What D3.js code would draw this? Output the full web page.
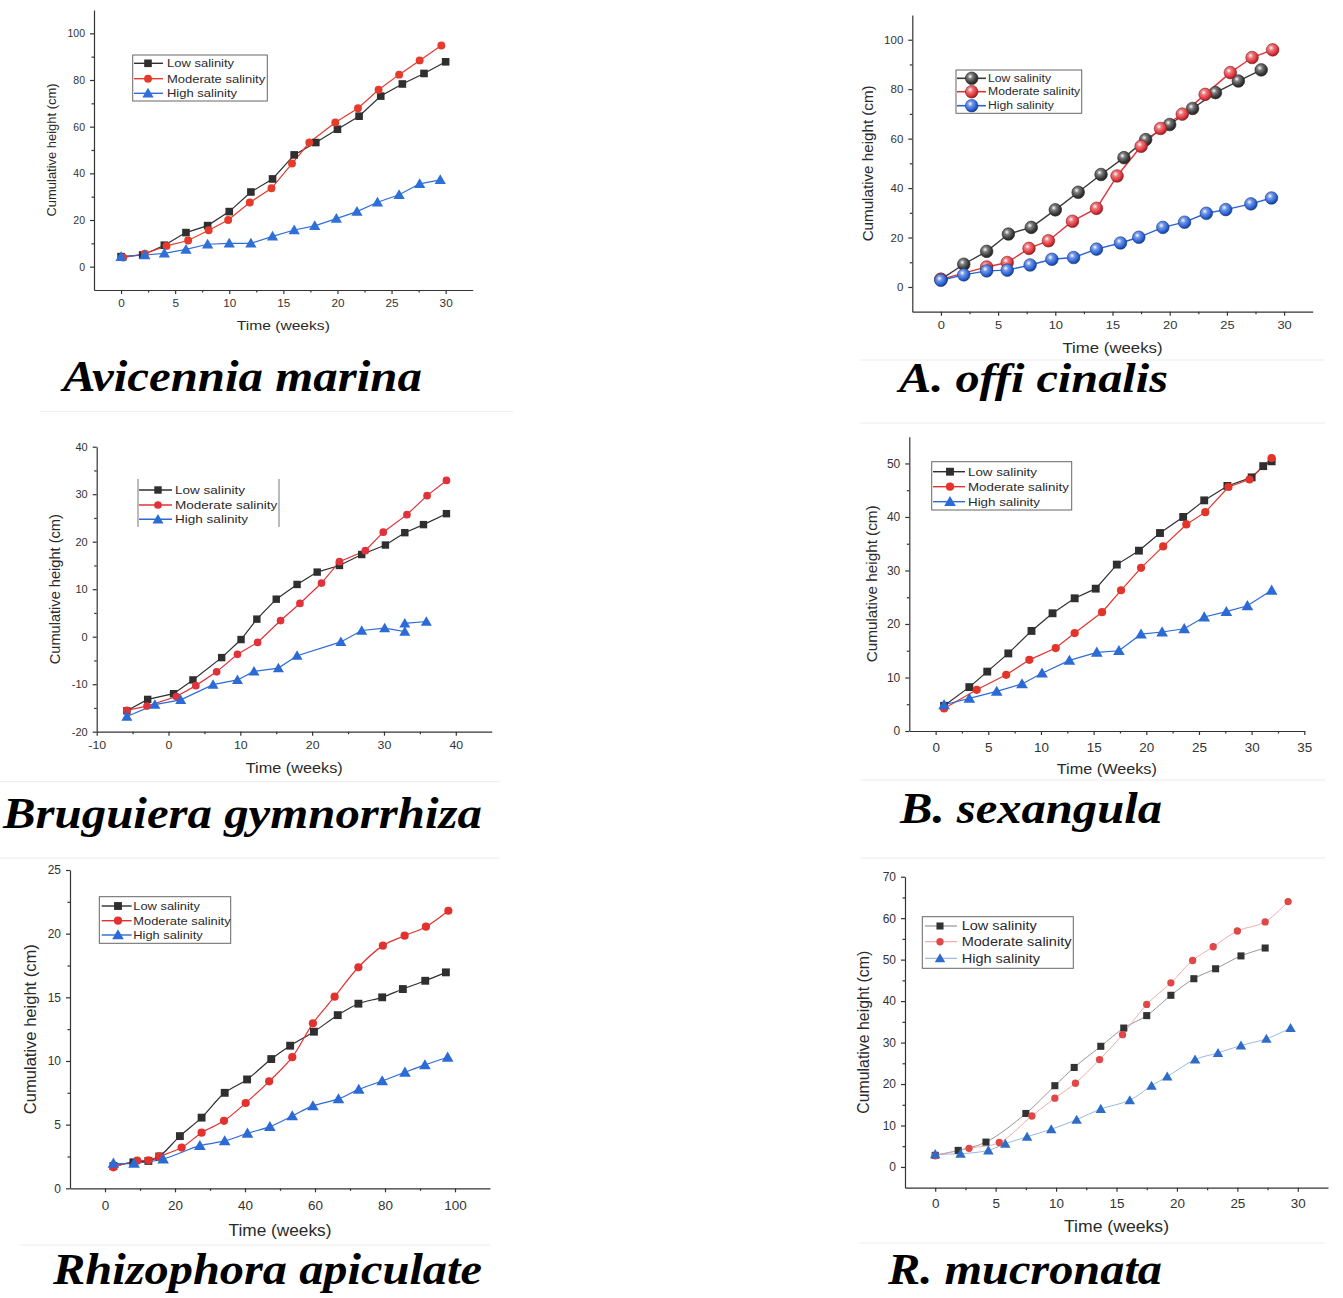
<!DOCTYPE html>
<html>
<head>
<meta charset="utf-8">
<script src="https://cdn.jsdelivr.net/npm/d3@7"></script>
<style>
  body { margin: 0; background: #fff; }
  svg { display: block; }
  text { font-family: "Liberation Sans", Arial, sans-serif; fill: #2a2a2a; }
  text.species { font-family: "Liberation Serif", "Times New Roman", serif; font-weight: bold; font-style: italic; fill: #000; }
</style>
</head>
<body>
<svg id="fig" width="1343" height="1298"></svg>
<script>
// ---------- series names ----------
const seriesNames = ["Low salinity", "Moderate salinity", "High salinity"];

// ---------- Avicennia marina ----------
const amLowX  = [0, 2, 4, 6, 8, 10, 12, 14, 16, 18, 20, 22, 24, 26, 28, 30];
const amLowY  = [4.3, 5, 9.2, 14.6, 17.6, 23.6, 32, 37.6, 47.9, 53.2, 58.9, 64.5, 73.1, 78.3, 82.8, 87.8];
const amModX  = [0.2, 2.2, 4.2, 6.2, 8.1, 9.9, 11.9, 13.9, 15.8, 17.4, 19.8, 21.9, 23.8, 25.7, 27.6, 29.6];
const amModY  = [3.9, 5.6, 8.9, 11.2, 15.6, 20, 27.5, 33.6, 44.2, 53.2, 61.8, 67.9, 75.8, 82.3, 88.4, 94.8];
const amHighX = [0, 2.2, 4, 6, 8, 10, 12, 14, 16, 17.9, 19.9, 21.8, 23.7, 25.7, 27.6, 29.5];
const amHighY = [4.3, 5, 5.7, 7.4, 9.6, 10, 10, 13, 15.7, 17.5, 20.6, 23.6, 27.6, 30.8, 35.5, 37.2];
const amXTicks = [0, 5, 10, 15, 20, 25, 30];
const amYTicks = [0, 20, 40, 60, 80, 100];

// ---------- A. officinalis ----------
const aoLowX  = [0, 2, 4, 5.9, 7.9, 10, 12, 14, 16, 17.9, 20, 22, 24, 26, 28];
const aoLowY  = [3.1, 9.2, 14.4, 21.4, 24.1, 31.2, 38.3, 45.5, 52.3, 59.6, 65.7, 72.2, 78.6, 83.3, 87.8];
const aoModX  = [0, 4, 5.8, 7.7, 9.4, 11.5, 13.6, 15.4, 17.5, 19.2, 21.1, 23.1, 25.3, 27.2, 29];
const aoModY  = [3.1, 8.1, 9.9, 15.6, 18.7, 26.6, 31.8, 44.9, 56.9, 64.1, 69.9, 77.9, 86.7, 92.8, 95.9];
const aoHighX = [0, 2, 4, 5.8, 7.8, 9.7, 11.6, 13.6, 15.7, 17.3, 19.4, 21.3, 23.2, 24.9, 27.1, 28.9];
const aoHighY = [2.7, 4.9, 6.5, 6.8, 8.9, 11.2, 11.9, 15.3, 17.8, 20.1, 24.1, 26.2, 29.8, 31.3, 33.6, 36];
const aoXTicks = [0, 5, 10, 15, 20, 25, 30];
const aoYTicks = [0, 20, 40, 60, 80, 100];

// ---------- Bruguiera gymnorrhiza ----------
const bgLowX  = [-5.8, -2.9, 0.7, 3.4, 7.4, 10.1, 12.3, 15, 17.9, 20.7, 23.8, 26.9, 30.2, 32.9, 35.5, 38.7];
const bgLowY  = [-15.6, -13.2, -12, -9.1, -4.4, -0.6, 3.7, 7.9, 11, 13.6, 15, 17.3, 19.3, 21.9, 23.6, 25.9];
const bgModX  = [-5.8, -3, 1.1, 3.8, 6.7, 9.6, 12.4, 15.6, 18.3, 21.3, 23.8, 27.4, 29.9, 33.2, 36, 38.7];
const bgModY  = [-15.5, -14.6, -12.6, -10.3, -7.4, -3.7, -1.2, 3.4, 7, 11.3, 15.8, 18.1, 22, 25.7, 29.7, 32.9];
const bgHighX = [-5.8, -1.9, 1.7, 6.2, 9.6, 11.9, 15.3, 17.9, 24, 26.9, 30.1, 32.9, 32.9, 35.9];
const bgHighY = [-16.8, -14.3, -13.3, -10.1, -9.1, -7.3, -6.6, -4, -1.1, 1.3, 1.8, 1.1, 2.8, 3.2];
const bgXTicks = [-10, 0, 10, 20, 30, 40];
const bgYTicks = [-20, -10, 0, 10, 20, 30, 40];

// ---------- B. sexangula ----------
const bsLowX  = [0.8, 3.2, 4.9, 6.9, 9.1, 11.1, 13.2, 15.2, 17.2, 19.3, 21.3, 23.5, 25.5, 27.7, 30, 31.1, 31.9];
const bsLowY  = [4.7, 8.2, 11.1, 14.5, 18.7, 22, 24.8, 26.6, 31.1, 33.7, 37, 40, 43.1, 45.8, 47.4, 49.5, 50.4];
const bsModX  = [0.8, 3.9, 6.7, 8.9, 11.4, 13.2, 15.8, 17.6, 19.5, 21.6, 23.8, 25.6, 27.8, 29.8, 31.9];
const bsModY  = [4.2, 7.7, 10.5, 13.3, 15.5, 18.3, 22.2, 26.3, 30.5, 34.5, 38.6, 40.9, 45.6, 47, 51];
const bsHighX = [0.8, 3.2, 5.8, 8.2, 10.1, 12.7, 15.3, 17.4, 19.5, 21.5, 23.6, 25.5, 27.6, 29.6, 31.9];
const bsHighY = [4.9, 6.1, 7.4, 8.8, 10.8, 13.2, 14.7, 15, 18.1, 18.5, 19.1, 21.3, 22.3, 23.4, 26.3];
const bsXTicks = [0, 5, 10, 15, 20, 25, 30, 35];
const bsYTicks = [0, 10, 20, 30, 40, 50];

// ---------- Rhizophora apiculata ----------
const raLowX  = [2.4, 8.1, 12.4, 15.5, 21.4, 27.6, 34.2, 40.6, 47.5, 52.9, 59.7, 66.5, 72.4, 79.2, 85.1, 91.5, 97.4];
const raLowY  = [1.75, 2.04, 2.15, 2.5, 4.1, 5.55, 7.5, 8.55, 10.15, 11.2, 12.3, 13.6, 14.5, 15, 15.65, 16.3, 16.96];
const raModX  = [2.4, 9.2, 12.4, 15.5, 21.9, 27.6, 34, 40.2, 46.9, 53.5, 59.4, 65.6, 72.4, 79.4, 85.6, 91.7, 98.1];
const raModY  = [1.65, 2.17, 2.2, 2.5, 3.2, 4.37, 5.3, 6.7, 8.4, 10.3, 12.96, 15.05, 17.36, 19.06, 19.84, 20.55, 21.8];
const raHighX = [2.4, 8.3, 16.6, 27.1, 34.2, 40.7, 47.1, 53.5, 59.4, 66.7, 72.5, 79.2, 85.7, 91.4, 97.9];
const raHighY = [1.96, 1.96, 2.3, 3.35, 3.72, 4.32, 4.84, 5.68, 6.47, 7.02, 7.77, 8.43, 9.11, 9.69, 10.29];
const raXTicks = [0, 20, 40, 60, 80, 100];
const raYTicks = [0, 5, 10, 15, 20, 25];

// ---------- R. mucronata ----------
const rmLowX  = [0, 1.9, 4.2, 7.5, 9.9, 11.5, 13.7, 15.6, 17.5, 19.5, 21.4, 23.2, 25.3, 27.3];
const rmLowY  = [2.8, 4, 6, 12.9, 19.6, 24, 29.1, 33.5, 36.5, 41.4, 45.4, 47.8, 50.9, 52.8];
const rmModX  = [0, 2.8, 5.3, 8, 9.9, 11.6, 13.6, 15.5, 17.5, 19.5, 21.3, 23, 25, 27.3, 29.2];
const rmModY  = [2.7, 4.5, 5.9, 12.3, 16.6, 20.2, 25.9, 31.9, 39.2, 44.4, 49.8, 53.1, 56.9, 59.1, 64];
const rmHighX = [0, 2.1, 4.4, 5.8, 7.6, 9.6, 11.7, 13.7, 16.1, 17.9, 19.2, 21.5, 23.4, 25.3, 27.4, 29.4];
const rmHighY = [3.1, 3.2, 4, 5.6, 7.3, 9.1, 11.4, 14, 16.1, 19.6, 21.8, 25.9, 27.5, 29.3, 30.9, 33.5];
const rmXTicks = [0, 5, 10, 15, 20, 25, 30];
const rmYTicks = [0, 10, 20, 30, 40, 50, 60, 70];

// ---------- panel definitions (data + axis extents) ----------
const panels = [
  { title: "Avicennia marina", xLabel: "Time (weeks)",
    xs: [amLowX, amModX, amHighX], ys: [amLowY, amModY, amHighY],
    xDomain: [-2.5, 32.5], yDomain: [-10, 110], xTicks: amXTicks, yTicks: amYTicks },
  { title: "A. offi cinalis", xLabel: "Time (weeks)",
    xs: [aoLowX, aoModX, aoHighX], ys: [aoLowY, aoModY, aoHighY],
    xDomain: [-2.5, 32.5], yDomain: [-10, 110], xTicks: aoXTicks, yTicks: aoYTicks },
  { title: "Bruguiera gymnorrhiza", xLabel: "Time (weeks)",
    xs: [bgLowX, bgModX, bgHighX], ys: [bgLowY, bgModY, bgHighY],
    xDomain: [-10, 45], yDomain: [-20, 40], xTicks: bgXTicks, yTicks: bgYTicks },
  { title: "B. sexangula", xLabel: "Time (Weeks)",
    xs: [bsLowX, bsModX, bsHighX], ys: [bsLowY, bsModY, bsHighY],
    xDomain: [-2.5, 35], yDomain: [0, 55], xTicks: bsXTicks, yTicks: bsYTicks },
  { title: "Rhizophora apiculate", xLabel: "Time (weeks)",
    xs: [raLowX, raModX, raHighX], ys: [raLowY, raModY, raHighY],
    xDomain: [-10, 110], yDomain: [0, 25], xTicks: raXTicks, yTicks: raYTicks },
  { title: "R. mucronata", xLabel: "Time (weeks)",
    xs: [rmLowX, rmModX, rmHighX], ys: [rmLowY, rmModY, rmHighY],
    xDomain: [-2.5, 32.5], yDomain: [-5, 70], xTicks: rmXTicks, yTicks: rmYTicks }
];

// ---------- layout of each panel ----------
const layouts = [
  { l: 94, r: 472.7, t: 10, b: 290, tickFs: 10.5, xLabOff: 13.3, xTitleY: 325, xTitleW: 93,
    yTitleX: 51.7, yTitleLen: 133, titleFs: 13, title: { x: 63, y: 390.5, w: 359, fs: 45 },
    legend: { x0: 132.7, y0: 55, x1: 267.3, y1: 101, rows: [63.3, 78.7, 93.3], l0: 134, l1: 163, m: 148, tx: 167, fs: 11, k: 1.18 },
    marker: "flat", msz: 58, lineW: 1.2, smooth: false, colors: ["#2f2f2f", "#e53a2c", "#2f6fd8"] },
  { l: 912.3, r: 1312.7, t: 15, b: 311.7, tickFs: 11.5, xLabOff: 13.3, xTitleY: 348, xTitleW: 100,
    yTitleX: 868, yTitleLen: 156, titleFs: 14.5, title: { x: 899, y: 392, w: 269, fs: 42 },
    legend: { x0: 956, y0: 70, x1: 1081.7, y1: 113.3, rows: [78.3, 91.7, 105.7], l0: 957, l1: 986, m: 971.7, tx: 988, fs: 10, k: 1.22 },
    marker: "sphere", msz: 6.3, lineW: 1.4, smooth: false, colors: ["#3a3a3a", "#e0343a", "#2a62d8"] },
  { l: 96.7, r: 491.7, t: 446.7, b: 731.7, tickFs: 11, xLabOff: 13.3, xTitleY: 768.3, xTitleW: 97,
    yTitleX: 55, yTitleLen: 150, titleFs: 14.6, title: { x: 3, y: 828, w: 479, fs: 45 },
    legend: { x0: 138, y0: 479, x1: 279, y1: 527, rows: [490, 505, 519.3], l0: 139, l1: 172, m: 158, tx: 175, fs: 11, k: 1.23, sidesOnly: true },
    marker: "flat", msz: 55, lineW: 1.2, smooth: false, colors: ["#2f2f2f", "#e0323a", "#2c6bd6"] },
  { l: 909.3, r: 1304.3, t: 436.7, b: 731, tickFs: 12, xLabOff: 16.7, xTitleY: 768.3, xTitleW: 100,
    yTitleX: 871.7, yTitleLen: 157, titleFs: 15.2, title: { x: 900, y: 823, w: 262, fs: 45 },
    legend: { x0: 931.7, y0: 461.7, x1: 1071.7, y1: 510, rows: [471.7, 486.7, 501.7], l0: 933, l1: 965, m: 950, tx: 968, fs: 11.5, k: 1.16 },
    marker: "flat", msz: 62, lineW: 1.2, smooth: false, colors: ["#2f2f2f", "#e2342b", "#2c6bd6"] },
  { l: 70, r: 490, t: 870, b: 1188.3, tickFs: 12, xLabOff: 17.4, xTitleY: 1230, xTitleW: 103,
    yTitleX: 30, yTitleLen: 170, titleFs: 16.5, title: { x: 53, y: 1284, w: 429, fs: 45 },
    legend: { x0: 99.3, y0: 896.7, x1: 230.7, y1: 943.3, rows: [906, 920.7, 935], l0: 101.7, l1: 131.7, m: 118, tx: 133.3, fs: 11, k: 1.17 },
    marker: "flat", msz: 62, lineW: 1.2, smooth: true, colors: ["#2f2f2f", "#e2322f", "#2c6bd6"] },
  { l: 905, r: 1328, t: 876.7, b: 1187.7, tickFs: 12, xLabOff: 15.6, xTitleY: 1226.7, xTitleW: 105,
    yTitleX: 863, yTitleLen: 163, titleFs: 15.9, title: { x: 888, y: 1284, w: 274, fs: 45 },
    legend: { x0: 922.3, y0: 916.7, x1: 1073.3, y1: 968.3, rows: [926, 941.7, 958.3], l0: 925, l1: 957, m: 940, tx: 961.7, fs: 12, k: 1.21 },
    marker: "flat", msz: 50, lineW: 0.9, smooth: true, colors: ["#333333", "#e04848", "#2f6cc8"],
    lineColors: ["#8a8a8a", "#f0a2a2", "#8fb0dc"] }
];

const svg = d3.select("#fig");

// faint edges of the individual figure tiles
const tileEdges = [
  [40, 513, 411.7], [0, 500, 781.7], [0, 500, 858], [20, 490, 1245],
  [860, 1325, 360], [860, 1325, 423], [860, 1325, 780], [860, 1325, 858], [860, 1325, 1243]
];
svg.append("g").selectAll("line").data(tileEdges).join("line")
  .attr("x1", d => d[0]).attr("x2", d => d[1]).attr("y1", d => d[2]).attr("y2", d => d[2])
  .attr("stroke", "#ececec").attr("stroke-width", 1);

// shaded-ball gradients for the sphere markers
const defs = svg.append("defs");
layouts[1].colors.forEach((c, i) => {
  const gr = defs.append("radialGradient").attr("id", "ball" + i)
    .attr("cx", "38%").attr("cy", "35%").attr("r", "65%");
  gr.append("stop").attr("offset", "0%").attr("stop-color", "#ffffff");
  gr.append("stop").attr("offset", "30%").attr("stop-color", d3.interpolateRgb(c, "#fff")(0.35));
  gr.append("stop").attr("offset", "75%").attr("stop-color", c);
  gr.append("stop").attr("offset", "100%").attr("stop-color", d3.color(c).darker(1.2));
});

const symbolTypes = [d3.symbolSquare, d3.symbolCircle, d3.symbolTriangle];

function stretchText(sel, k) {
  sel.each(function () {
    const w = this.getComputedTextLength();
    d3.select(this).attr("textLength", w * k).attr("lengthAdjust", "spacingAndGlyphs");
  });
}

function minorTicks(major, domain) {
  const step = major[1] - major[0];
  const out = [];
  for (let v = major[0] - step / 2; v < domain[1]; v += step) {
    if (v > domain[0] + 1e-9 && v < domain[1] - 1e-9) out.push(v);
  }
  return out;
}

function drawMarker(g, L, i, cx, cy) {
  if (L.marker === "sphere") {
    g.append("circle").attr("cx", cx).attr("cy", cy).attr("r", L.msz)
      .attr("fill", `url(#ball${i})`).attr("stroke", d3.color(L.colors[i]).darker(1.5))
      .attr("stroke-width", 0.6);
  } else {
    const sz = i === 2 ? L.msz * 0.95 : (i === 1 ? L.msz * 0.85 : L.msz);
    g.append("path")
      .attr("transform", `translate(${cx},${cy + (i === 2 ? 1 : 0)})`)
      .attr("d", d3.symbol(symbolTypes[i], sz)())
      .attr("fill", L.colors[i]);
  }
}

panels.forEach((p, pi) => {
  const L = layouts[pi];
  const g = svg.append("g");
  const x = d3.scaleLinear().domain(p.xDomain).range([L.l, L.r]);
  const y = d3.scaleLinear().domain(p.yDomain).range([L.b, L.t]);

  const fmt = d => String(d);
  const xPad = L.xLabOff - 4 - 0.35 * L.tickFs;

  // bottom axis: major + minor ticks
  const gx = g.append("g").attr("transform", `translate(0,${L.b})`)
    .call(d3.axisBottom(x).tickValues(p.xTicks).tickSize(4).tickSizeOuter(0)
      .tickPadding(xPad).tickFormat(fmt));
  g.append("g").attr("transform", `translate(0,${L.b})`)
    .call(d3.axisBottom(x).tickValues(minorTicks(p.xTicks, p.xDomain)).tickSize(2.5).tickFormat(""))
    .call(s => s.select(".domain").remove());

  // left axis: major + minor ticks
  g.append("g").attr("transform", `translate(${L.l},0)`)
    .call(d3.axisLeft(y).tickValues(p.yTicks).tickSize(4).tickSizeOuter(0)
      .tickPadding(5).tickFormat(fmt));
  g.append("g").attr("transform", `translate(${L.l},0)`)
    .call(d3.axisLeft(y).tickValues(minorTicks(p.yTicks, p.yDomain)).tickSize(2.5).tickFormat(""))
    .call(s => s.select(".domain").remove());

  g.selectAll(".domain, .tick line").attr("stroke", "#333").attr("stroke-width", 1.2);
  g.selectAll(".tick text").attr("font-size", L.tickFs).style("fill", "#333");
  stretchText(gx.selectAll(".tick text"), 1.12);

  // axis titles
  g.append("text").attr("x", (L.l + L.r) / 2).attr("y", L.xTitleY).attr("dy", "0.35em")
    .attr("text-anchor", "middle").attr("font-size", L.titleFs)
    .attr("textLength", L.xTitleW).attr("lengthAdjust", "spacingAndGlyphs")
    .text(p.xLabel);
  g.append("text")
    .attr("transform", `translate(${L.yTitleX},${(L.t + L.b) / 2}) rotate(-90)`)
    .attr("dy", "0.35em").attr("text-anchor", "middle").attr("font-size", L.titleFs)
    .attr("textLength", L.yTitleLen).attr("lengthAdjust", "spacingAndGlyphs")
    .text("Cumulative height (cm)");

  // series lines then markers
  const line = d3.line().x(d => x(d[0])).y(d => y(d[1]))
    .curve(L.smooth ? d3.curveCatmullRom.alpha(0.5) : d3.curveLinear);
  const lineColors = L.lineColors || L.colors;
  [0, 1, 2].forEach(i => {
    const pts = d3.zip(p.xs[i], p.ys[i]);
    g.append("path").datum(pts).attr("d", line).attr("fill", "none")
      .attr("stroke", lineColors[i]).attr("stroke-width", L.lineW);
  });
  [0, 1, 2].forEach(i => {
    const pts = d3.zip(p.xs[i], p.ys[i]);
    const mg = g.append("g");
    pts.forEach(d => drawMarker(mg, L, i, x(d[0]), y(d[1])));
  });

  // legend
  const lg = L.legend;
  const leg = g.append("g");
  if (lg.sidesOnly) {
    [lg.x0, lg.x1].forEach(xx => leg.append("line").attr("x1", xx).attr("x2", xx)
      .attr("y1", lg.y0).attr("y2", lg.y1).attr("stroke", "#777").attr("stroke-width", 1));
  } else {
    leg.append("rect").attr("x", lg.x0).attr("y", lg.y0)
      .attr("width", lg.x1 - lg.x0).attr("height", lg.y1 - lg.y0)
      .attr("fill", "#fff").attr("stroke", "#666").attr("stroke-width", 1);
  }
  seriesNames.forEach((name, i) => {
    const yy = lg.rows[i];
    leg.append("line").attr("x1", lg.l0).attr("x2", lg.l1).attr("y1", yy).attr("y2", yy)
      .attr("stroke", lineColors[i]).attr("stroke-width", L.lineW + 0.2);
    drawMarker(leg, L, i, lg.m, yy);
    const t = leg.append("text").attr("x", lg.tx).attr("y", yy).attr("dy", "0.35em")
      .attr("font-size", lg.fs).text(name);
    stretchText(t, lg.k);
  });

  // species name under the plot
  svg.append("text").attr("class", "species")
    .attr("x", L.title.x).attr("y", L.title.y)
    .attr("font-size", L.title.fs)
    .attr("textLength", L.title.w).attr("lengthAdjust", "spacingAndGlyphs")
    .text(p.title);
});
</script>
</body>
</html>
